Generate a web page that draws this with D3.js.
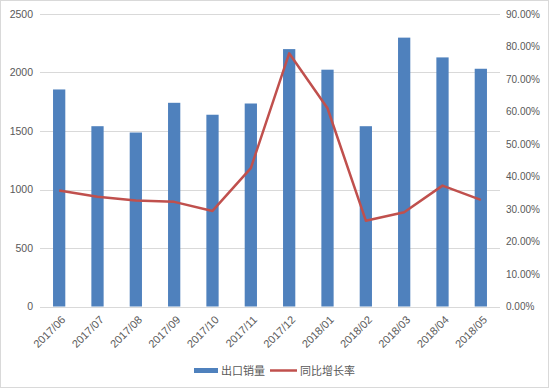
<!DOCTYPE html>
<html><head><meta charset="utf-8">
<script src="https://cdn.jsdelivr.net/npm/d3@7"></script>
<style>
body{margin:0;background:#fff;}
svg{display:block;}
</style></head>
<body>
<script>
const categories = ["2017/06","2017/07","2017/08","2017/09","2017/10","2017/11","2017/12","2018/01","2018/02","2018/03","2018/04","2018/05"];
const exportSales = [1855,1541,1487,1741,1639,1735,2200,2024,1541,2298,2129,2032];
const yoyGrowth = [0.357,0.338,0.326,0.322,0.294,0.426,0.779,0.610,0.264,0.290,0.372,0.328];
const leftTicks = [0,500,1000,1500,2000,2500];
const rightTicks = [0,0.1,0.2,0.3,0.4,0.5,0.6,0.7,0.8,0.9];
const seriesNames = ["出口销量","同比增长率"];

(function(){
const W=550,H=391;
const svg=d3.select("body").append("svg").attr("width",W).attr("height",H);
svg.append("rect").attr("x",0.5).attr("y",0.5).attr("width",W-2).attr("height",H-4)
  .attr("fill","#fff").attr("stroke","#d9d9d9");

const mL=40,mR=500,mT=14,mB=306.5;
const x=d3.scaleBand().domain(categories).range([mL,mR]).paddingInner(0.68).paddingOuter(0.34);
const yL=d3.scaleLinear().domain([0,2500]).range([mB,mT]);
const yR=d3.scaleLinear().domain([0,0.9]).range([mB,mT]);
const font="'Liberation Sans', 'Noto Sans CJK SC', sans-serif";
const grey="#595959";

svg.append("g").selectAll("line").data(leftTicks).join("line")
  .attr("x1",mL).attr("x2",mR)
  .attr("y1",d=>Math.round(yL(d))+0.5).attr("y2",d=>Math.round(yL(d))+0.5)
  .attr("stroke","#d9d9d9").attr("stroke-width",1);

const axL=svg.append("g").attr("transform",`translate(${mL},0)`)
  .call(d3.axisLeft(yL).tickValues(leftTicks).tickSize(0).tickPadding(7).tickFormat(d3.format("d")));
axL.select(".domain").remove();
axL.selectAll("text").attr("fill",grey).style("font-family",font).style("font-size","10.5px");

const axR=svg.append("g").attr("transform",`translate(${mR},0)`)
  .call(d3.axisRight(yR).tickValues(rightTicks).tickSize(0).tickPadding(6).tickFormat(d3.format(".2%")));
axR.select(".domain").remove();
axR.selectAll("text").attr("fill",grey).style("font-family",font).style("font-size","10px");

svg.append("g").selectAll("rect").data(exportSales).join("rect")
  .attr("x",(d,i)=>x(categories[i])).attr("width",x.bandwidth())
  .attr("y",d=>yL(d)).attr("height",d=>mB-yL(d))
  .attr("fill","#4f81bd");

const line=d3.line().x((d,i)=>x(categories[i])+x.bandwidth()/2).y(d=>yR(d));
svg.append("path").datum(yoyGrowth).attr("d",line)
  .attr("fill","none").attr("stroke","#c0504d").attr("stroke-width",2.5).attr("stroke-linejoin","round");

const axX=svg.append("g").attr("transform",`translate(0,${mB})`)
  .call(d3.axisBottom(x).tickSize(0).tickPadding(0));
axX.select(".domain").remove();
axX.selectAll("text").attr("fill",grey).style("font-family",font).style("font-size","11px")
  .attr("text-anchor","end").attr("dy",0).attr("y",0)
  .attr("transform","translate(7,14) rotate(-45)");

const lg=svg.append("g").style("font-family","'Noto Sans CJK SC', sans-serif").style("font-size","11px");
lg.append("rect").attr("x",194).attr("y",368).attr("width",24).attr("height",5).attr("fill","#4f81bd");
lg.append("text").attr("x",221).attr("y",374.5).attr("fill",grey).text(seriesNames[0]);
lg.append("line").attr("x1",270).attr("x2",297).attr("y1",370.5).attr("y2",370.5)
  .attr("stroke","#c0504d").attr("stroke-width",2.5);
lg.append("text").attr("x",300).attr("y",374.5).attr("fill",grey).text(seriesNames[1]);
})();
</script>
</body></html>
